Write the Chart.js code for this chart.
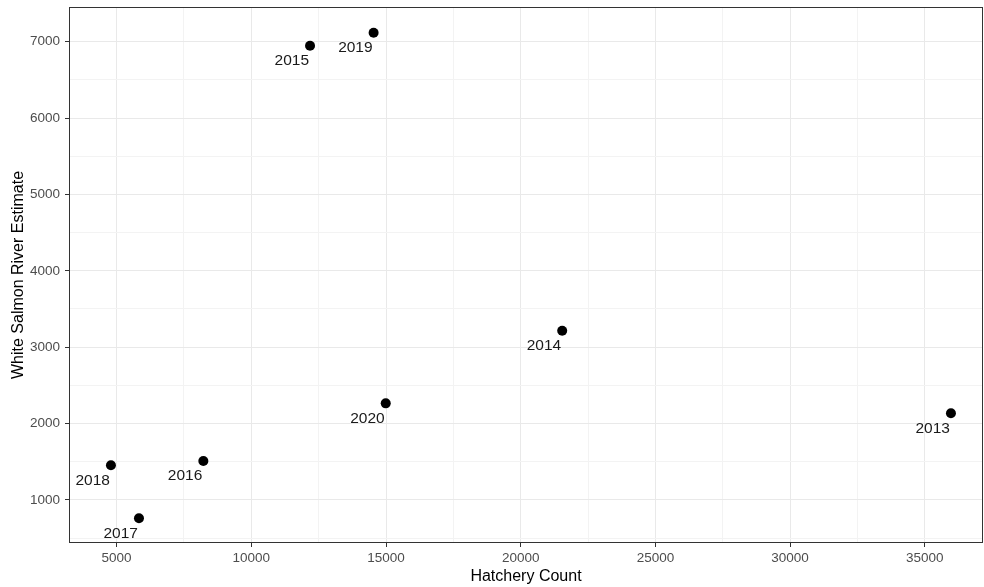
<!DOCTYPE html>
<html>
<head>
<meta charset="utf-8">
<title>White Salmon River Estimate vs Hatchery Count</title>
<script src="https://cdn.jsdelivr.net/npm/chart.js@4/dist/chart.umd.min.js"></script>
<style>
  html, body { margin: 0; padding: 0; background: #ffffff; }
  #wrap { width: 984px; height: 587px; }
</style>
</head>
<body>
<div id="wrap"><canvas id="chart" width="984" height="587"></canvas></div>
<script>
// Return year of each observation
const years = ['2013', '2014', '2015', '2016', '2017', '2018', '2019', '2020'];
// Fish counted at the hatchery
const hatcheryCount = [35970, 21540, 12180, 8220, 5830, 4790, 14540, 14990];
// Estimated returns in the White Salmon River
const riverEstimate = [2135, 3215, 6945, 1510, 760, 1455, 7115, 2265];

// Axis breaks: major (labelled) and minor (grid only)
const xMajorTicks = [5000, 10000, 15000, 20000, 25000, 30000, 35000];
const xMinorTicks = [7500, 12500, 17500, 22500, 27500, 32500];
const yMajorTicks = [1000, 2000, 3000, 4000, 5000, 6000, 7000];
const yMinorTicks = [500, 1500, 2500, 3500, 4500, 5500, 6500];

const FONT = "'Liberation Sans', Arial, Helvetica, sans-serif";
Chart.defaults.font.family = FONT;

const points = hatcheryCount.map((x, i) => ({ x: x, y: riverEstimate[i] }));

function tickList(major, minor) {
  return major.concat(minor).sort((a, b) => a - b).map(v => ({ value: v }));
}

// Keep the plotting area fixed: no extra room reserved for edge labels
function clearEdgePadding(scale) {
  scale.paddingTop = 0;
  scale.paddingBottom = 0;
  scale.paddingLeft = 0;
  scale.paddingRight = 0;
}

// Panel border drawn around the whole plotting area
const panelBorder = {
  id: 'panelBorder',
  afterDraw(chart) {
    const { ctx, chartArea: a } = chart;
    ctx.save();
    ctx.strokeStyle = '#333333';
    ctx.lineWidth = 1;
    ctx.strokeRect(Math.round(a.left) + 0.5, Math.round(a.top) + 0.5,
                   Math.round(a.right - a.left) - 1, Math.round(a.bottom - a.top) - 1);
    ctx.restore();
  }
};

// Year labels placed below-left of each point
const yearLabels = {
  id: 'yearLabels',
  afterDatasetsDraw(chart) {
    const { ctx } = chart;
    const meta = chart.getDatasetMeta(0);
    ctx.save();
    ctx.font = '15.5px ' + FONT;
    ctx.fillStyle = '#1a1a1a';
    ctx.textAlign = 'right';
    ctx.textBaseline = 'middle';
    meta.data.forEach((el, i) => {
      ctx.fillText(years[i], el.x - 1, el.y + 15);
    });
    ctx.restore();
  }
};

new Chart(document.getElementById('chart'), {
  type: 'scatter',
  data: {
    datasets: [{
      data: points,
      backgroundColor: '#000000',
      borderWidth: 0,
      pointRadius: 5,
      pointHoverRadius: 5
    }]
  },
  options: {
    responsive: false,
    animation: false,
    devicePixelRatio: 1,
    layout: { autoPadding: false, padding: { left: 0, top: 7, right: 1, bottom: 0 } },
    plugins: {
      legend: { display: false },
      tooltip: { enabled: false }
    },
    scales: {
      x: {
        type: 'linear',
        min: 3233,
        max: 37160,
        afterBuildTicks(scale) { scale.ticks = tickList(xMajorTicks, xMinorTicks); },
        afterFit(scale) { scale.height = 44; clearEdgePadding(scale); },
        border: { display: false },
        grid: {
          color: c => (xMajorTicks.includes(c.tick.value) ? '#e9e9e9' : '#f3f3f3'),
          lineWidth: 1,
          tickLength: 4,
          tickColor: c => (xMajorTicks.includes(c.tick.value) ? '#333333' : 'rgba(0,0,0,0)')
        },
        ticks: {
          autoSkip: false,
          maxRotation: 0,
          padding: 3,
          color: '#4d4d4d',
          font: { size: 13.5 },
          callback: v => (xMajorTicks.includes(v) ? String(v) : '')
        },
        title: {
          display: true,
          text: 'Hatchery Count',
          color: '#000000',
          font: { size: 16 },
          padding: { top: 0, bottom: 1 }
        }
      },
      y: {
        type: 'linear',
        min: 437,
        max: 7453,
        afterBuildTicks(scale) { scale.ticks = tickList(yMajorTicks, yMinorTicks); },
        afterFit(scale) { scale.width = 69; clearEdgePadding(scale); },
        border: { display: false },
        grid: {
          color: c => (yMajorTicks.includes(c.tick.value) ? '#e9e9e9' : '#f3f3f3'),
          lineWidth: 1,
          tickLength: 4,
          tickColor: c => (yMajorTicks.includes(c.tick.value) ? '#333333' : 'rgba(0,0,0,0)')
        },
        ticks: {
          autoSkip: false,
          padding: 5,
          color: '#4d4d4d',
          font: { size: 13.5 },
          callback: v => (yMajorTicks.includes(v) ? String(v) : '')
        },
        title: {
          display: true,
          text: 'White Salmon River Estimate',
          color: '#000000',
          font: { size: 16 },
          padding: { top: 9, bottom: 0 }
        }
      }
    }
  },
  plugins: [panelBorder, yearLabels]
});
</script>
</body>
</html>
